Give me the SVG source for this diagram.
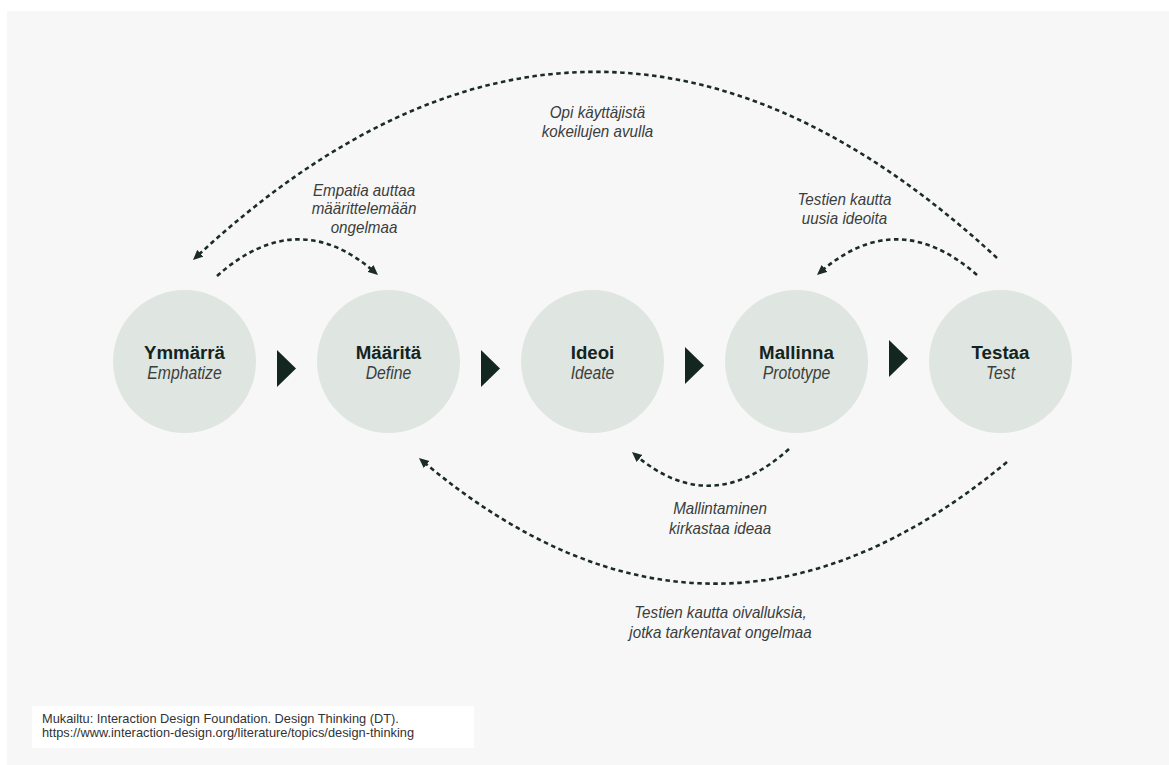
<svg xmlns="http://www.w3.org/2000/svg" width="1169" height="765" viewBox="0 0 1169 765">
  <style>
    .stage { fill: #dfe5e0; }
    .title { font-family: "Liberation Sans", Arial, sans-serif; font-weight: bold; font-size: 18.7px; fill: #13241f; text-anchor: middle; }
    .sub { font-family: "Liberation Sans", Arial, sans-serif; font-style: italic; font-size: 17.5px; fill: #3a3f3d; text-anchor: middle; }
    .note { font-family: "Liberation Sans", Arial, sans-serif; font-style: italic; font-size: 16px; fill: #3a3d3c; text-anchor: middle; }
    .step { fill: #13261f; }
    .loop { fill: none; stroke: #1b2b27; stroke-width: 2.6; stroke-dasharray: 4.5 3.5; marker-end: url(#head); }
    .ref { font-family: "Liberation Sans", Arial, sans-serif; font-size: 12.8px; fill: #333333; }
  </style>
  <defs>
    <marker id="head" viewBox="0 0 10 10" refX="6" refY="5" markerWidth="10" markerHeight="10" markerUnits="userSpaceOnUse" orient="auto">
      <path d="M0,0.5 L10,5 L0,9.5 z" fill="#1b2b27"/>
    </marker>
  </defs>

  <!-- page background -->
  <rect x="0" y="0" width="1169" height="765" fill="#ffffff"/>
  <rect x="7" y="11" width="1162" height="754" fill="#f7f7f7"/>

  <!-- feedback loops -->
  <g id="connectors">
    <path class="loop" d="M997,258 Q595,-114 195.9,257.3"/>
    <path class="loop" d="M217,276 Q297.5,204.5 375,272.4"/>
    <path class="loop" d="M977,275 Q897,205 820,272.4"/>
    <path class="loop" d="M789,449 Q710.5,519.5 635,454.6"/>
    <path class="loop" d="M1007,462 Q713,706 422,460.6"/>
  </g>

  <!-- forward steps between stages -->
  <g id="steps">
    <polygon class="step" points="277,350 296,368.5 277,387"/>
    <polygon class="step" points="481,350 500,368.5 481,387"/>
    <polygon class="step" points="685,347 704,365.5 685,384"/>
    <polygon class="step" points="889,340 908,358.5 889,377"/>
  </g>

  <g id="emphatize">
    <circle class="stage" cx="184.5" cy="361.5" r="71.5"/>
    <text class="title" x="184.5" y="359">Ymmärrä</text>
    <text class="sub" transform="translate(184.5 379) scale(0.9 1)">Emphatize</text>
  </g>
  <g id="define">
    <circle class="stage" cx="388.5" cy="361.5" r="71.5"/>
    <text class="title" x="388.5" y="359">Määritä</text>
    <text class="sub" transform="translate(388.5 379) scale(0.9 1)">Define</text>
  </g>
  <g id="ideate">
    <circle class="stage" cx="592.5" cy="361.5" r="71.5"/>
    <text class="title" x="592.5" y="359">Ideoi</text>
    <text class="sub" transform="translate(592.5 379) scale(0.9 1)">Ideate</text>
  </g>
  <g id="prototype">
    <circle class="stage" cx="796.5" cy="361.5" r="71.5"/>
    <text class="title" x="796.5" y="359">Mallinna</text>
    <text class="sub" transform="translate(796.5 379) scale(0.9 1)">Prototype</text>
  </g>
  <g id="test">
    <circle class="stage" cx="1000.5" cy="361.5" r="71.5"/>
    <text class="title" x="1000.5" y="359">Testaa</text>
    <text class="sub" transform="translate(1000.5 379) scale(0.9 1)">Test</text>
  </g>

  <!-- loop labels -->
  <g id="labels">
    <text class="note" transform="translate(597.5 118) scale(0.95 1)"><tspan x="0" y="0">Opi käyttäjistä</tspan><tspan x="0" y="19">kokeilujen avulla</tspan></text>
    <text class="note" transform="translate(364 195.5) scale(0.95 1)"><tspan x="0" y="0">Empatia auttaa</tspan><tspan x="0" y="19">määrittelemään</tspan><tspan x="0" y="38">ongelmaa</tspan></text>
    <text class="note" transform="translate(844.5 205) scale(0.95 1)"><tspan x="0" y="0">Testien kautta</tspan><tspan x="0" y="19.5">uusia ideoita</tspan></text>
    <text class="note" transform="translate(720 514) scale(0.95 1)"><tspan x="0" y="0">Mallintaminen</tspan><tspan x="0" y="20">kirkastaa ideaa</tspan></text>
    <text class="note" transform="translate(720.5 618) scale(0.95 1)"><tspan x="0" y="0">Testien kautta oivalluksia,</tspan><tspan x="0" y="20">jotka tarkentavat ongelmaa</tspan></text>
  </g>

  <!-- source reference -->
  <g id="source">
    <rect x="32" y="706" width="442" height="42" fill="#ffffff"/>
    <text class="ref" x="42" y="722.5">Mukailtu: Interaction Design Foundation. Design Thinking (DT).</text>
    <text class="ref" x="42" y="736.5">https://www.interaction-design.org/literature/topics/design-thinking</text>
  </g>
</svg>
